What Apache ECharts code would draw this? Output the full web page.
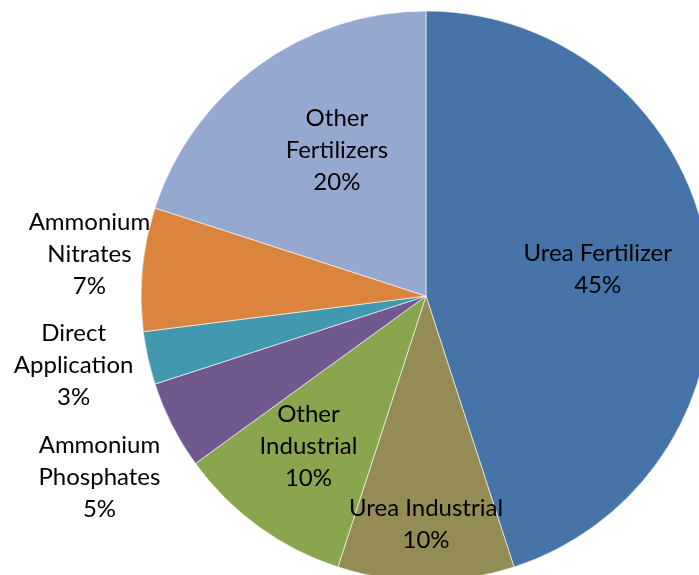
<!DOCTYPE html>
<html>
<head>
<meta charset="utf-8">
<script src="https://cdn.jsdelivr.net/npm/echarts@6/dist/echarts.min.js"></script>
<style>
  html, body { margin: 0; padding: 0; background: #fff; }
  #chart { width: 699px; height: 575px; }
</style>
</head>
<body>
<div id="chart"></div>
<script>
// shares of use, clockwise from 12 o'clock
const categories = ['Urea Fertilizer', 'Urea Industrial', 'Other Industrial', 'Ammonium Phosphates',
  'Direct Application', 'Ammonium Nitrates', 'Other Fertilizers'];
const shares = [45, 10, 10, 5, 3, 7, 20];
const labelNames = ['Urea Fertilizer', 'Urea Industrial', 'Other\nIndustrial', 'Ammonium\nPhosphates',
  'Direct\nApplication', 'Ammonium\nNitrates', 'Other\nFertilizers'];
const colors = ['#4673a8', '#958b55', '#89a54e', '#71588f', '#4198af', '#db843d', '#95a9d0'];

// label placement: [radius ratio, angle nudge in degrees]
const labelPolar = [[0.61, 0], [0.8, 0], [0.67, 2], [1.31, -2], [1.26, 1.5], [1.19, 1.7], [0.6, 4.6]];

const cx = 426, cy = 296, radius = 285;
const total = shares.reduce((a, b) => a + b, 0);

const chart = echarts.init(document.getElementById('chart'));
chart.setOption({
  animation: false,
  series: [{
    type: 'pie',
    center: [cx, cy],
    radius: radius,
    startAngle: 90,
    clockwise: true,
    color: colors,
    itemStyle: { borderColor: '#fff', borderWidth: 0.6 },
    emphasis: { disabled: true },
    labelLine: { show: false },
    label: {
      show: true,
      position: 'inside',
      color: '#000',
      fontFamily: 'Lato',
      fontSize: 24,
      lineHeight: 32,
      align: 'center',
      formatter: p => labelNames[p.dataIndex] + '\n' + p.value + '%'
    },
    labelLayout: params => {
      const i = params.dataIndex;
      let before = 0;
      for (let k = 0; k < i; k++) before += shares[k];
      const mid = ((before + shares[i] / 2) / total) * 360 + labelPolar[i][1];
      const a = mid * Math.PI / 180;
      const r = radius * labelPolar[i][0];
      return {
        x: cx + r * Math.sin(a),
        y: cy - r * Math.cos(a),
        align: 'center',
        verticalAlign: 'middle'
      };
    },
    data: categories.map((c, i) => ({ name: c, value: shares[i] }))
  }]
});
</script>
</body>
</html>
